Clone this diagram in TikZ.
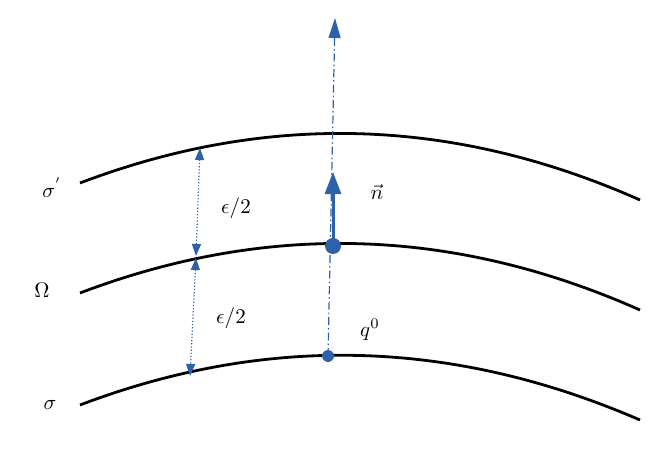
\documentclass[tikz,border=0pt]{standalone}
\usepackage{fix-cm}
\usetikzlibrary{arrows.meta}
\begin{document}
\begin{tikzpicture}[x=1pt,y=-1pt,
  curve/.style={line width=2.8pt,black},
  bl/.style={color={rgb,255:red,46;green,98;blue,168}},
  lab/.style={scale=2.1,transform shape},
  dim/.style={bl,line width=1.2pt,dotted,{Triangle[width=9pt,length=12pt]}-{Triangle[width=9pt,length=12pt]}}]
\useasboundingbox (0,0) rectangle (664,468);
\draw[curve] (80,183) .. controls (267,112) and (453,117) .. (640,200);
\draw[curve] (80,293) .. controls (267,222) and (453,227) .. (640,310);
\draw[curve] (80,405) .. controls (267,334) and (453,339) .. (640,420);
\coordinate (q) at (328,356);
\coordinate (p) at (333,246);
\coordinate (top) at (335,18);
\coordinate (nt) at (333,172);
\coordinate (a1) at (200,148); \coordinate (a2) at (196,256);
\coordinate (b1) at (196,258); \coordinate (b2) at (190,376);
\draw[bl,line width=1.2pt,dash pattern=on 8pt off 3pt on 1.5pt off 3pt,-{Triangle[width=12pt,length=20pt]}] (q) -- (top);
\draw[bl,line width=3pt,-{Triangle[width=16pt,length=22pt]}] (p) -- (nt);
\fill[bl] (p) circle (8);
\fill[bl] (q) circle (6);
\draw[dim] (a1) -- (a2);
\draw[dim] (b1) -- (b2);
\node[lab] (e1) at (236,208) {$\epsilon/2$};
\node[lab] (e2) at (231,318) {$\epsilon/2$};
\node[lab] (s1) at (52,188) {$\sigma^{'}$};
\node[lab] (om) at (42,290) {$\Omega$};
\node[lab] (s0) at (50,405) {$\sigma$};
\node[lab] (qz) at (370,330) {$q^0$};
\node[lab] (nn) at (377,192) {$\vec{n}$};
\end{tikzpicture}
\end{document}
